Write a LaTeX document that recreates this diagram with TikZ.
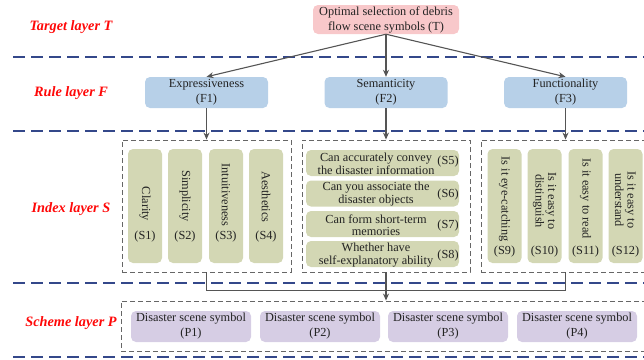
\documentclass[tikz,border=0pt]{standalone}
\usepackage{fontspec}
\setmainfont{Liberation Serif}
\usetikzlibrary{arrows.meta}

\definecolor{layerblue}{RGB}{52,72,138}
\definecolor{targetfill}{RGB}{248,200,202}
\definecolor{rulefill}{RGB}{183,208,232}
\definecolor{indexfill}{RGB}{211,215,180}
\definecolor{schemefill}{RGB}{214,205,228}
\definecolor{layerred}{RGB}{255,8,8}
\definecolor{linkgray}{RGB}{85,85,85}
\definecolor{boxtext}{RGB}{35,35,35}

\tikzset{
  layerlabel/.style={text=layerred, inner sep=0pt, font=\fontsize{14.3}{16}\selectfont\bfseries\itshape},
  layerline/.style={layerblue, line width=1.4pt, dash pattern=on 12pt off 6pt},
  groupbox/.style={draw=black!60, line width=0.9pt, dash pattern=on 5pt off 3pt, inner sep=0pt},
  basebox/.style={rounded corners=5pt, inner sep=0pt, align=center, text=boxtext, font=\fontsize{12.3}{15}\selectfont},
  targetbox/.style={basebox, fill=targetfill, minimum width=146pt, minimum height=29pt},
  rulebox/.style={basebox, fill=rulefill, minimum width=123pt, minimum height=31pt},
  tallbox/.style={basebox, fill=indexfill, minimum width=34pt, minimum height=114pt},
  widebox/.style={basebox, fill=indexfill, minimum width=153pt, minimum height=26pt},
  schemebox/.style={basebox, fill=schemefill, minimum width=120pt, minimum height=31pt},
  txt/.style={inner sep=0pt, align=center, text=boxtext, font=\fontsize{12.3}{12.5}\selectfont},
  link/.style={draw=linkgray, line width=1.1pt, -{Stealth[length=7pt,width=6pt]}},
  linkline/.style={draw=linkgray, line width=1.1pt},
}

\begin{document}
\begin{tikzpicture}[x=1pt, y=-1pt]
  \useasboundingbox (0,0) rectangle (644,359);
  \clip (0,0) rectangle (644,359);

  % layer separators
  \foreach \yy/\nm in {57/a,131/b,283/c,357/d}
    \draw[layerline] (13,\yy) coordinate (sep\nm) -- (650,\yy);

  % layer titles
  \node[layerlabel] (labT) at (71,27) {Target layer T};
  \node[layerlabel] (labF) at (71,93) {Rule layer F};
  \node[layerlabel] (labS) at (71,209) {Index layer S};
  \node[layerlabel] (labP) at (71,323) {Scheme layer P};

  % target layer
  \node[targetbox] (T) at (386,19.5) {Optimal selection of debris\\flow scene symbols (T)};

  % rule layer
  \node[rulebox] (F1) at (206.5,92.5) {Expressiveness\\(F1)};
  \node[rulebox] (F2) at (386,92.5) {Semanticity\\(F2)};
  \node[rulebox] (F3) at (565.5,92.5) {Functionality\\(F3)};

  % index layer groups
  \node[groupbox, minimum width=169pt, minimum height=132pt] (G1) at (206.5,206) {};
  \node[groupbox, minimum width=168pt, minimum height=132pt] (G2) at (386,206) {};
  \node[groupbox, minimum width=169pt, minimum height=132pt] (G3) at (565.5,206) {};

  % expressiveness indices
  \node[tallbox] (S1) at (145,206) {};
  \node[tallbox] (S2) at (185,206) {};
  \node[tallbox] (S3) at (226,206) {};
  \node[tallbox] (S4) at (266,206) {};
  \node[txt, rotate=-90] (S1t) at (145,204) {Clarity};
  \node[txt, rotate=-90] (S2t) at (185,196) {Simplicity};
  \node[txt, rotate=-90] (S3t) at (226,195) {Intuitiveness};
  \node[txt, rotate=-90] (S4t) at (266,197) {Aesthetics};
  \node[txt] (S1l) at (145,237) {(S1)};
  \node[txt] (S2l) at (185,237) {(S2)};
  \node[txt] (S3l) at (226,237) {(S3)};
  \node[txt] (S4l) at (266,237) {(S4)};

  % semanticity indices
  \node[widebox] (S5) at (382.5,163) {};
  \node[widebox] (S6) at (382.5,193.5) {};
  \node[widebox] (S7) at (382.5,224) {};
  \node[widebox] (S8) at (382.5,254) {};
  \node[txt] (S5t) at (376,164) {Can accurately convey\\the disaster information};
  \node[txt] (S6t) at (376,194) {Can you associate the\\disaster objects};
  \node[txt] (S7t) at (376,225) {Can form short-term\\memories};
  \node[txt] (S8t) at (376,255) {Whether have\\self-explanatory ability};
  \node[txt] (S5l) at (448,162) {(S5)};
  \node[txt] (S6l) at (448,195) {(S6)};
  \node[txt] (S7l) at (448,226) {(S7)};
  \node[txt] (S8l) at (448,256) {(S8)};

  % functionality indices
  \node[tallbox] (S9) at (504.5,206) {};
  \node[tallbox] (S10) at (544.5,206) {};
  \node[tallbox] (S11) at (585.5,206) {};
  \node[tallbox] (S12) at (625.5,206) {};
  \node[txt, rotate=-90] (S9t) at (504.5,199) {Is it eye-catching};
  \node[txt, rotate=-90] (S10t) at (544.5,201) {Is it easy to\\distinguish};
  \node[txt, rotate=-90] (S11t) at (585.5,198.5) {Is it easy to read};
  \node[txt, rotate=-90] (S12t) at (625.5,200) {Is it easy to\\understand};
  \node[txt] (S9l) at (504.5,252) {(S9)};
  \node[txt] (S10l) at (544.5,252) {(S10)};
  \node[txt] (S11l) at (585.5,252) {(S11)};
  \node[txt] (S12l) at (625.5,252) {(S12)};

  % scheme layer
  \node[groupbox, minimum width=530pt, minimum height=50pt] (G4) at (386,326) {};
  \node[schemebox] (P1) at (191,326.5) {Disaster scene symbol\\(P1)};
  \node[schemebox] (P2) at (320,326.5) {Disaster scene symbol\\(P2)};
  \node[schemebox] (P3) at (448,326.5) {Disaster scene symbol\\(P3)};
  \node[schemebox] (P4) at (577,326.5) {Disaster scene symbol\\(P4)};

  % connectors
  \draw[link] (T.south) -- (F1.north);
  \draw[link] (T.south) -- (F2.north);
  \draw[link] (T.south) -- (F3.north);
  \draw[link] (F1.south) -- (G1.north);
  \draw[link] (F2.south) -- (G2.north);
  \draw[link] (F3.south) -- (G3.north);
  \draw[linkline] (G1.south) -- ++(0,18) coordinate (mergeL) -| (G3.south);
  \draw[link] (G2.south) -- (G4.north);
\end{tikzpicture}
\end{document}
